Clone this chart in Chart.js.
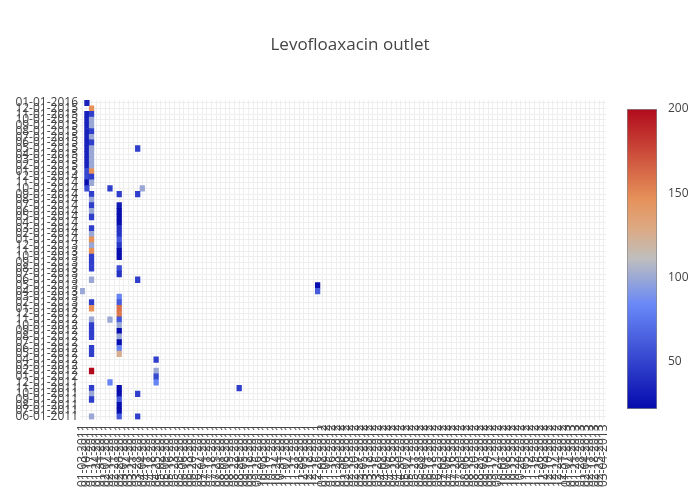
<!DOCTYPE html>
<html>
<head>
<meta charset="utf-8">
<script src="https://cdn.jsdelivr.net/npm/chart.js@4.4.0/dist/chart.umd.min.js"></script>
<style>
  html, body { margin: 0; padding: 0; background: #fff; }
  #wrap { position: relative; width: 700px; height: 500px; }
  #heat { position: absolute; left: 0; top: 0; }
  #cbar { position: absolute; left: 600px; top: 0; }
</style>
</head>
<body>
<div id="wrap">
  <canvas id="heat" width="700" height="500"></canvas>
  <canvas id="cbar" width="100" height="500"></canvas>
</div>
<script>
// months, bottom to top
const months = [
  "06-01-2011", "07-01-2011", "08-01-2011", "09-01-2011", "10-01-2011", "11-01-2011", "12-01-2011",
  "01-01-2012", "02-01-2012", "03-01-2012", "04-01-2012", "05-01-2012", "06-01-2012",
  "07-01-2012", "08-01-2012", "09-01-2012", "10-01-2012", "11-01-2012", "12-01-2012",
  "01-01-2013", "02-01-2013", "03-01-2013", "04-01-2013", "05-01-2013", "06-01-2013",
  "07-01-2013", "08-01-2013", "09-01-2013", "10-01-2013", "11-01-2013", "12-01-2013",
  "01-01-2014", "02-01-2014", "03-01-2014", "04-01-2014", "05-01-2014", "06-01-2014",
  "07-01-2014", "08-01-2014", "09-01-2014", "10-01-2014", "11-01-2014", "12-01-2014",
  "01-01-2015", "02-01-2015", "03-01-2015", "04-01-2015", "05-01-2015", "06-01-2015",
  "07-01-2015", "08-01-2015", "09-01-2015", "10-01-2015", "11-01-2015", "12-01-2015",
  "01-01-2016"
];

// x categories: 114 of them, the rotated labels are not legible in the reference
const outlets = [];
for (let i = 0; i < 114; i++) {
  const d = new Date(2011, 0, 3 + i * 7);
  outlets.push(String(d.getMonth() + 1).padStart(2, "0") + "-" + String(d.getDate()).padStart(2, "0") + "-" + d.getFullYear());
}

// [column, month, value]
const cells = [
  [1, "01-01-2016", 34],
  [2, "12-01-2015", 147],
  [1, "11-01-2015", 34], [2, "11-01-2015", 48],
  [1, "10-01-2015", 34], [2, "10-01-2015", 100],
  [1, "09-01-2015", 34], [2, "09-01-2015", 100],
  [1, "08-01-2015", 34], [2, "08-01-2015", 48],
  [1, "07-01-2015", 34], [2, "07-01-2015", 100],
  [1, "06-01-2015", 34], [2, "06-01-2015", 48],
  [1, "05-01-2015", 34], [2, "05-01-2015", 100], [12, "05-01-2015", 48],
  [1, "04-01-2015", 34], [2, "04-01-2015", 100],
  [1, "03-01-2015", 34], [2, "03-01-2015", 100],
  [1, "02-01-2015", 34], [2, "02-01-2015", 100],
  [1, "01-01-2015", 52], [2, "01-01-2015", 147],
  [1, "12-01-2014", 52], [2, "12-01-2014", 48],
  [1, "11-01-2014", 24], [2, "11-01-2014", 100],
  [1, "10-01-2014", 55], [6, "10-01-2014", 48], [13, "10-01-2014", 100],
  [2, "09-01-2014", 48], [8, "09-01-2014", 48], [12, "09-01-2014", 48],
  [2, "08-01-2014", 100],
  [2, "07-01-2014", 48], [8, "07-01-2014", 30],
  [2, "06-01-2014", 100], [8, "06-01-2014", 24],
  [2, "05-01-2014", 48], [8, "05-01-2014", 24],
  [8, "04-01-2014", 24],
  [2, "03-01-2014", 48], [8, "03-01-2014", 42],
  [2, "02-01-2014", 100], [8, "02-01-2014", 42],
  [2, "01-01-2014", 147], [8, "01-01-2014", 60],
  [2, "12-01-2013", 100], [8, "12-01-2013", 44],
  [2, "11-01-2013", 147], [8, "11-01-2013", 24],
  [2, "10-01-2013", 48], [8, "10-01-2013", 24],
  [2, "09-01-2013", 48],
  [2, "08-01-2013", 48], [8, "08-01-2013", 55],
  [8, "07-01-2013", 42],
  [2, "06-01-2013", 100], [12, "06-01-2013", 48],
  [51, "05-01-2013", 24],
  [0, "04-01-2013", 100], [51, "04-01-2013", 62],
  [8, "03-01-2013", 82],
  [2, "02-01-2013", 48], [8, "02-01-2013", 62],
  [2, "01-01-2013", 147], [8, "01-01-2013", 160],
  [8, "12-01-2012", 156],
  [2, "11-01-2012", 100], [6, "11-01-2012", 100], [8, "11-01-2012", 60],
  [2, "10-01-2012", 48], [8, "10-01-2012", 100],
  [2, "09-01-2012", 48], [8, "09-01-2012", 24],
  [2, "08-01-2012", 48], [8, "08-01-2012", 100],
  [8, "07-01-2012", 24],
  [2, "06-01-2012", 48], [8, "06-01-2012", 82],
  [2, "05-01-2012", 48], [8, "05-01-2012", 125],
  [16, "04-01-2012", 48],
  [2, "02-01-2012", 200], [16, "02-01-2012", 100],
  [16, "01-01-2012", 52],
  [6, "12-01-2011", 82], [16, "12-01-2011", 82],
  [2, "11-01-2011", 48], [8, "11-01-2011", 24], [34, "11-01-2011", 48],
  [2, "10-01-2011", 100], [8, "10-01-2011", 24], [12, "10-01-2011", 48],
  [2, "09-01-2011", 48], [8, "09-01-2011", 60],
  [8, "08-01-2011", 24],
  [8, "07-01-2011", 24],
  [2, "06-01-2011", 100], [8, "06-01-2011", 62], [12, "06-01-2011", 48]
];

const colorTicks = [50, 100, 150, 200];
const zMin = 22, zMax = 200;

// plotly RdBu
const stops = [
  [0, [5, 10, 172]], [0.35, [106, 137, 247]], [0.5, [190, 190, 190]],
  [0.6, [220, 170, 132]], [0.7, [230, 145, 90]], [1, [178, 10, 28]]
];

function colorFor(z) {
  const t = Math.max(0, Math.min(1, (z - zMin) / (zMax - zMin)));
  for (let i = 1; i < stops.length; i++) {
    if (t <= stops[i][0]) {
      const [p0, c0] = stops[i - 1], [p1, c1] = stops[i];
      const f = (t - p0) / (p1 - p0);
      const c = c0.map((v, k) => Math.round(v + (c1[k] - v) * f));
      return `rgb(${c[0]},${c[1]},${c[2]})`;
    }
  }
  return "rgb(178,10,28)";
}

const font = { family: '"Open Sans", "DejaVu Sans", sans-serif', size: 12 };

const heatPoints = cells.map(([col, month, z]) => {
  const m = months.indexOf(month);
  return { x: outlets[col], y: [m - 0.5, m + 0.5], z };
});

new Chart(document.getElementById("heat"), {
  type: "bar",
  data: {
    labels: outlets,
    datasets: [{
      data: heatPoints,
      backgroundColor: (c) => (c.raw ? colorFor(c.raw.z) : "rgba(0,0,0,0)"),
      borderWidth: 0,
      barPercentage: 1,
      categoryPercentage: 1,
    }],
  },
  options: {
    responsive: false,
    animation: false,
    plugins: {
      legend: { display: false },
      tooltip: { enabled: false },
      title: {
        display: true,
        text: "Levofloaxacin outlet",
        color: "#444",
        font: { family: font.family, size: 17, weight: "normal" },
        padding: { top: 35, bottom: 44.6 },
      },
    },
    scales: {
      x: {
        type: "category",
        offset: true,
        grid: { color: "#eee", offset: false, drawTicks: false },
        border: { display: false },
        ticks: { autoSkip: false, minRotation: 90, maxRotation: 90, padding: 5, color: "#444", font },
        afterFit: (s) => { s.height = 80.5; },
      },
      y: {
        type: "linear",
        min: -0.5,
        max: 55.5,
        afterBuildTicks: (s) => { s.ticks = months.map((_, i) => ({ value: i })); },
        grid: { color: "#eee", drawTicks: false },
        border: { display: false },
        ticks: { autoSkip: false, padding: 2, color: "#444", font, callback: (v) => months[v] },
        afterFit: (s) => { s.width = 80; },
      },
      // empty right-hand space where the colour bar sits
      yRight: {
        type: "linear",
        position: "right",
        grid: { display: false },
        border: { display: false },
        ticks: { display: false },
        afterFit: (s) => { s.width = 94; },
      },
    },
  },
});

// colour bar
new Chart(document.getElementById("cbar"), {
  type: "bar",
  data: {
    labels: [""],
    datasets: [{
      data: [[zMin, zMax]],
      backgroundColor: (c) => {
        const area = c.chart.chartArea;
        if (!area) return "#ccc";
        const g = c.chart.ctx.createLinearGradient(0, area.bottom, 0, area.top);
        stops.forEach(([p, col]) => g.addColorStop(p, `rgb(${col[0]},${col[1]},${col[2]})`));
        return g;
      },
      borderColor: "#888",
      borderWidth: 1,
      borderSkipped: false,
      barPercentage: 1,
      categoryPercentage: 1,
    }],
  },
  options: {
    responsive: false,
    animation: false,
    layout: { padding: { left: 27, top: 109, bottom: 91, right: 0 } },
    plugins: { legend: { display: false }, tooltip: { enabled: false } },
    scales: {
      x: { display: false },
      y: {
        position: "right",
        min: zMin,
        max: zMax,
        grid: { display: false },
        border: { display: false },
        afterBuildTicks: (s) => { s.ticks = colorTicks.map((v) => ({ value: v })); },
        ticks: { padding: 3, color: "#444", font },
        afterFit: (s) => { s.width = 43; },
      },
    },
  },
});
</script>
</body>
</html>
